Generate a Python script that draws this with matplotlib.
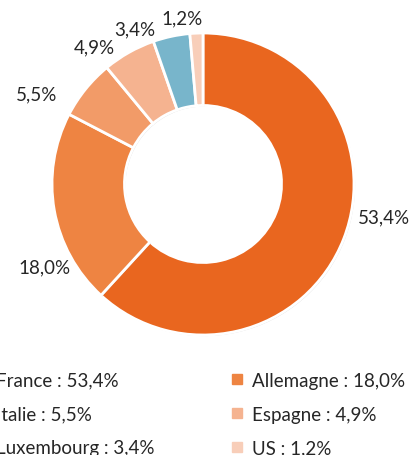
import matplotlib
matplotlib.use("Agg")
import matplotlib.pyplot as plt
import matplotlib.patheffects as pe
from matplotlib.lines import Line2D

plt.rcParams['font.family'] = ['Lato', 'DejaVu Sans']

countries = ["France", "Allemagne", "Italie", "Espagne", "Luxembourg", "US"]
values = [53.4, 18.0, 5.5, 4.9, 3.4, 1.2]
value_labels = ["53,4%", "18,0%", "5,5%", "4,9%", "3,4%", "1,2%"]
colors = ["#E9661F", "#EE8442", "#F29B68", "#F5B390", "#78B5CB", "#F8CEB9"]

W, H = 411, 456
fig = plt.figure(figsize=(W / 100, H / 100), dpi=100)
cx, cy, R = 203, 185, 151
ax = fig.add_axes([(cx - R) / W, (H - cy - R) / H, 2 * R / W, 2 * R / H])

wedges, _ = ax.pie(values, colors=colors, startangle=90, counterclock=False,
                   radius=1.0,
                   wedgeprops=dict(width=0.48, edgecolor="white", linewidth=2.0))
for w in wedges:
    w.set_path_effects([pe.SimplePatchShadow(offset=(0.8, -0.8), shadow_rgbFace="#999999", alpha=0.35), pe.Normal()])
ax.set_xlim(-1, 1)
ax.set_ylim(-1, 1)
ax.axis("off")

# label positions (relative to radius)
label_pos = [(1.20, -0.22), (-1.05, -0.55), (-1.10, 0.60), (-0.72, 0.91), (-0.45, 1.03), (-0.14, 1.10)]
for (lx, ly), t in zip(label_pos, value_labels):
    ax.text(lx, ly, t, ha="center", va="center", fontsize=13.5, color="#262626")

handles = [Line2D([0], [0], marker="s", linestyle="none", markersize=7,
                  markerfacecolor=c, markeredgecolor=c) for c in colors]
labels = [f"{c} : {v}" for c, v in zip(countries, value_labels)]
order = [0, 2, 4, 1, 3, 5]
fig.legend([handles[i] for i in order], [labels[i] for i in order],
           loc="upper left", bbox_to_anchor=(-43 / W, 1 - 356 / H),
           ncol=2, frameon=False, fontsize=13.5, handlelength=0.8, handletextpad=0.4,
           columnspacing=4.0, labelspacing=0.89, labelcolor="#262626")

fig.savefig("out.png", dpi=100)
